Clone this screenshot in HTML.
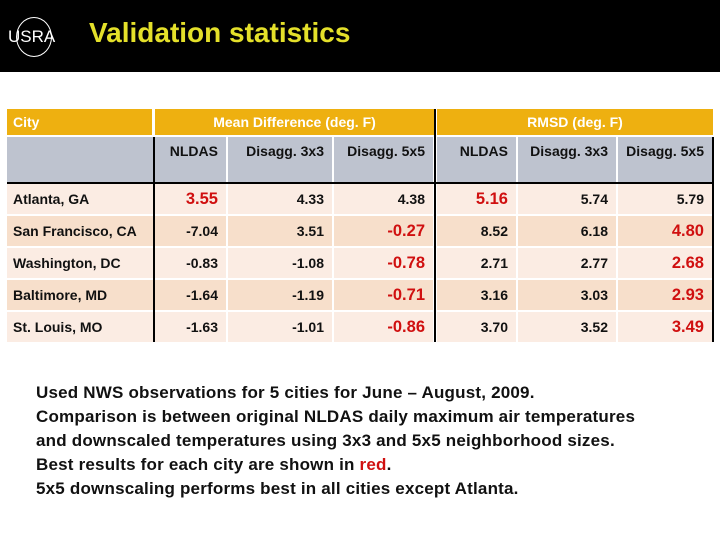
<!DOCTYPE html>
<html><head><meta charset="utf-8"><style>
body{margin:0;width:720px;height:540px;background:#fff;position:relative;overflow:hidden;font-family:"Liberation Sans",sans-serif;}
.c{position:absolute;box-sizing:border-box;font-weight:bold;font-size:14px;color:#111;display:flex;align-items:center;white-space:nowrap;letter-spacing:0px}
.r{justify-content:flex-end;padding-right:8px}
.red{color:#d01010;font-size:16.5px}
.ln{position:absolute;background:#000}
</style></head><body>
<div style="position:absolute;left:0;top:0;width:720px;height:72px;background:#000"></div>
<div style="position:absolute;left:8px;top:17px;width:52px;height:40px;color:#fff;font:17px 'Liberation Sans',sans-serif;">
<div style="position:absolute;left:8px;top:0;width:34px;height:38px;border:1px solid #fff;border-radius:50%"></div><span style="position:absolute;left:0;top:10px">USRA</span></div>
<div style="position:absolute;left:89px;top:17px;color:#e4e02a;font:bold 28px 'Liberation Sans',sans-serif;letter-spacing:0px">Validation statistics</div>
<div id="tbl"></div>
<div style="position:absolute;left:36px;top:381px;font:bold 17px/24px 'Liberation Sans',sans-serif;color:#111;letter-spacing:0.2px">Used NWS observations for 5 cities for June – August, 2009.<br>Comparison is between original NLDAS daily maximum air temperatures<br>and downscaled temperatures using 3x3 and 5x5 neighborhood sizes.<br>Best results for each city are shown in <span style="color:#d01010">red</span>.<br>5x5 downscaling performs best in all cities except Atlanta.</div>
<script>
const cities=["Atlanta, GA","San Francisco, CA","Washington, DC","Baltimore, MD","St. Louis, MO"];
const colHeads=["NLDAS","Disagg. 3x3","Disagg. 5x5","NLDAS","Disagg. 3x3","Disagg. 5x5"];
const values=[["3.55","4.33","4.38","5.16","5.74","5.79"],["-7.04","3.51","-0.27","8.52","6.18","4.80"],["-0.83","-1.08","-0.78","2.71","2.77","2.68"],["-1.64","-1.19","-0.71","3.16","3.03","2.93"],["-1.63","-1.01","-0.86","3.70","3.52","3.49"]];
const best=[[0,3],[2,5],[2,5],[2,5],[2,5]];
const T=document.getElementById('tbl');
function cell(x,y,w,h,txt,bg,cls,name){const d=document.createElement('div');d.className='c '+(cls||'');d.style.cssText=`left:${x}px;top:${y}px;width:${w}px;height:${h}px;background:${bg}`;d.textContent=txt;


T.appendChild(d);return d;}
const orange="#eeb010",gray="#bec3cf",rows=["#fbece3","#f7dfcb"];
const cx=[155,228,334,437,518,618],cw=[72,105,100,80,99,95];
const c1=cell(7,109,145,26,"City",orange,"","city-header");c1.style.color="#fff";c1.style.paddingLeft="6px";
const c2=cell(155,109,279,26,"Mean Difference (deg. F)",orange,"","mean-diff-header");c2.style.color="#fff";c2.style.justifyContent="center";
const c3=cell(437,109,276,26,"RMSD (deg. F)",orange,"","rmsd-header");c3.style.color="#fff";c3.style.justifyContent="center";
cell(7,137,147,46,"",gray,"","blank-header");
colHeads.forEach((h,i)=>{const d=cell(cx[i],137,cw[i]-1,46,h,gray,"r","column-header");d.style.alignItems="flex-start";d.style.paddingTop="6px";});
const ry=[184,216,248,280,312];
cities.forEach((c,r)=>{const bg=rows[r%2];const a=cell(7,ry[r],146,30,c,bg,"","city-label");a.style.paddingLeft="6px";
values[r].forEach((v,i)=>{cell(cx[i],ry[r],cw[i]-1,30,v,bg,"r"+(best[r].includes(i)?" red":""),"value-cell");});});
function ln(x,y,w,h){const d=document.createElement('div');d.className='ln';d.style.cssText=`left:${x}px;top:${y}px;width:${w}px;height:${h}px`;


T.appendChild(d);}
ln(7,182,706,2);ln(153,137,2,205);ln(434,109,2,233);ln(712,137,2,205);
</script>
</body></html>
